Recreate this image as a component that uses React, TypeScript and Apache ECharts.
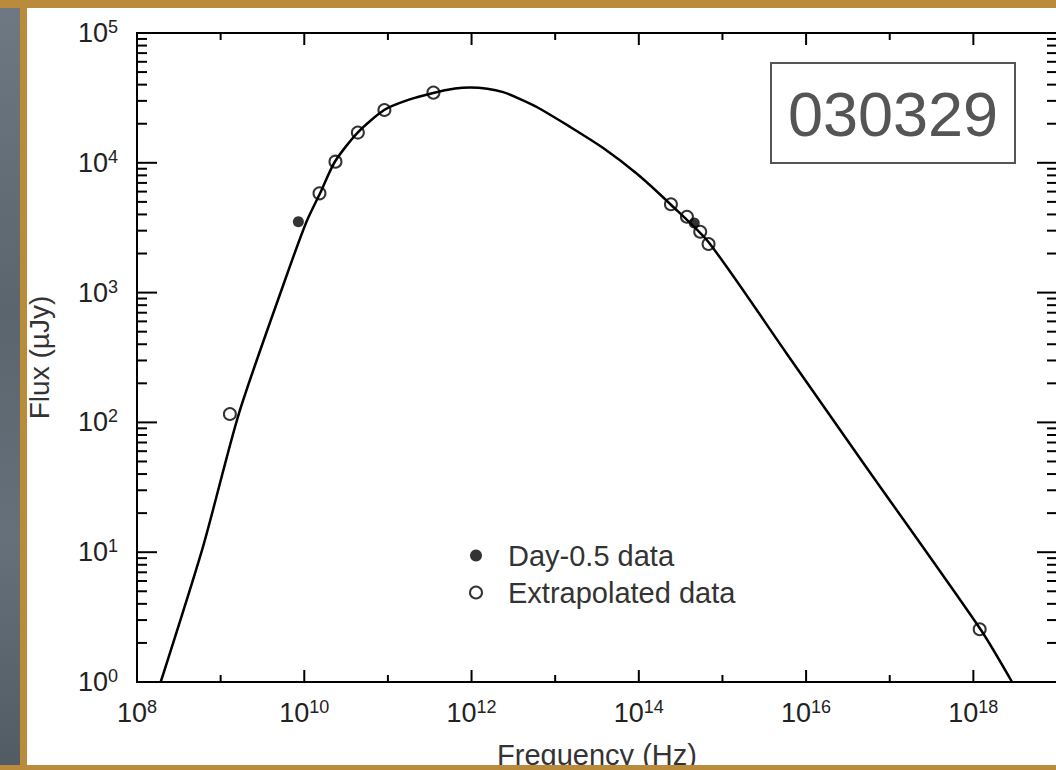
import React, { useEffect, useRef } from "react";
import * as echarts from "echarts";

// Model curve
const curveFreq = [1.92e8, 6.15e8, 1.66e9, 5.89e9, 1.06e10, 1.55e10, 2.33e10, 4.35e10, 9.02e10, 1.75e11, 3.48e11, 6.37e11, 9.62e11, 1.54e12, 2.39e12, 3.81e12, 6.1e12, 1.51e13, 3.75e13, 9.57e13, 2.44e14, 6.95e14, 5.79e15, 4.83e16, 1.21e18, 2.9e18];
const curveFlux = [1.0, 11.0, 118, 1250, 3500, 5850, 10230, 17100, 25500, 30500, 34500, 37300, 38000, 37200, 35000, 31000, 26800, 18900, 13000, 8200, 4730, 2410, 343, 48.7, 2.56, 1.0];

// Day-0.5 data (filled)
const dayFreq = [8.5e9, 4.6e14];
const dayFlux = [3520, 3440];

// Extrapolated data (open)
const extraFreq = [1.29e9, 1.52e10, 2.36e10, 4.37e10, 9.08e10, 3.5e11, 2.42e14, 3.76e14, 5.42e14, 6.82e14, 1.19e18];
const extraFlux = [116, 5820, 10200, 17100, 25500, 34700, 4790, 3840, 2945, 2370, 2.55];

// Axis ticks
const xMin = 1e8;
const xMax = 1e19;
const yMin = 1;
const yMax = 1e5;
const xMajorTicks = [1e8, 1e10, 1e12, 1e14, 1e16, 1e18];
const xMinorTicks = [1e9, 1e11, 1e13, 1e15, 1e17];
const yMajorTicks = [1, 10, 100, 1000, 10000, 100000];
const yMinorMantissas = [2, 3, 4, 5, 6, 7, 8, 9];
const yDecades = [1, 10, 100, 1000, 10000];
const yMinorTicks = yDecades.flatMap((d) => yMinorMantissas.map((m) => m * d));

const FONT = '"Liberation Sans", Arial, Helvetica, sans-serif';

function supLabel(v: number) {
  const e = Math.round(Math.log10(v));
  return `{b|10}{s|${e}}`;
}

const labelRich = {
  b: { fontSize: 27, fontFamily: FONT, color: "#222", lineHeight: 30 },
  s: { fontSize: 18, fontFamily: FONT, color: "#222", lineHeight: 20, verticalAlign: "top" },
};

function tickSeries(name: string, values: number[], orient: "x" | "y", len: number) {
  return {
    type: "custom",
    name,
    silent: true,
    clip: false,
    z: 6,
    data: values.map((v) => (orient === "x" ? [v, yMin] : [xMin, v])),
    renderItem: (_p: any, api: any) => {
      const style = { stroke: "#000", lineWidth: 2 };
      if (orient === "x") {
        const v = api.value(0);
        const b = api.coord([v, yMin]);
        const t = api.coord([v, yMax]);
        return {
          type: "group",
          children: [
            { type: "line", shape: { x1: b[0], y1: b[1], x2: b[0], y2: b[1] - len }, style },
            { type: "line", shape: { x1: t[0], y1: t[1], x2: t[0], y2: t[1] + len }, style },
          ],
        };
      }
      const v = api.value(1);
      const l = api.coord([xMin, v]);
      const r = api.coord([xMax, v]);
      return {
        type: "group",
        children: [
          { type: "line", shape: { x1: l[0], y1: l[1], x2: l[0] + len, y2: l[1] }, style },
          { type: "line", shape: { x1: r[0], y1: r[1], x2: r[0] - len, y2: r[1] }, style },
        ],
      };
    },
  };
}

export default function App() {
  const ref = useRef<HTMLDivElement>(null);
  useEffect(() => {
    if (!ref.current) return;
    const chart = echarts.init(ref.current, undefined, { renderer: "svg" });
    chart.setOption({
      animation: false,
      backgroundColor: "transparent",
      grid: {
        left: 137,
        top: 33,
        width: 920,
        height: 649,
        containLabel: false,
        outerBoundsMode: "none",
        show: true,
        borderColor: "#000",
        borderWidth: 2,
        backgroundColor: "transparent",
      },
      legend: {
        data: ["Day-0.5 data", "Extrapolated data"],
        orient: "vertical",
        left: 464,
        top: 536,
        itemWidth: 12,
        itemHeight: 12,
        itemGap: 8,
        selectedMode: false,
        textStyle: { fontSize: 29, lineHeight: 28, color: "#333", fontFamily: FONT, padding: [0, 0, 0, 21] },
      },
      xAxis: {
        type: "log",
        logBase: 10,
        min: xMin,
        max: xMax,
        interval: 2,
        name: "Frequency (Hz)",
        nameLocation: "middle",
        nameGap: 58,
        nameTextStyle: { fontSize: 29, color: "#333", fontFamily: FONT },
        axisLine: { show: false },
        axisTick: { show: false },
        splitLine: { show: false },
        axisLabel: {
          formatter: supLabel,
          rich: labelRich,
          margin: 16,
          showMaxLabel: false,
        },
      },
      yAxis: {
        type: "log",
        logBase: 10,
        min: yMin,
        max: yMax,
        interval: 1,
        name: "Flux (µJy)",
        nameLocation: "middle",
        nameGap: 84,
        nameTextStyle: { fontSize: 28, color: "#333", fontFamily: FONT },
        axisLine: { show: false },
        axisTick: { show: false },
        splitLine: { show: false },
        axisLabel: {
          formatter: supLabel,
          rich: labelRich,
          margin: 19,
        },
      },
      graphic: [
        {
          type: "rect",
          shape: { x: 771, y: 63, width: 244, height: 100 },
          style: { fill: "#fff", stroke: "#555", lineWidth: 2 },
          z: 10,
        },
        {
          type: "text",
          x: 893,
          y: 114,
          style: {
            text: "030329",
            fill: "#555",
            fontSize: 63,
            fontFamily: FONT,
            textAlign: "center",
            textVerticalAlign: "middle",
          },
          z: 11,
        },
      ],
      series: [
        {
          type: "line",
          name: "Model",
          data: curveFreq.map((f, i) => [f, curveFlux[i]]),
          showSymbol: false,
          symbol: "none",
          smooth: 0.25,
          lineStyle: { color: "#000", width: 2.5 },
          z: 3,
          silent: true,
        },
        {
          type: "scatter",
          name: "Day-0.5 data",
          data: dayFreq.map((f, i) => [f, dayFlux[i]]),
          symbol: "circle",
          symbolSize: 11,
          itemStyle: { color: "#000" },
          z: 4,
        },
        {
          type: "scatter",
          name: "Extrapolated data",
          data: extraFreq.map((f, i) => [f, extraFlux[i]]),
          symbol: "circle",
          symbolSize: 12,
          itemStyle: { color: "rgba(255,255,255,0)", borderColor: "#000", borderWidth: 2 },
          z: 4,
        },
        tickSeries("xMajor", xMajorTicks, "x", 12),
        tickSeries("xMinor", xMinorTicks, "x", 7),
        tickSeries("yMajor", yMajorTicks, "y", 20),
        tickSeries("yMinor", yMinorTicks, "y", 10),
      ],
    });
    return () => chart.dispose();
  }, []);

  return (
    <div style={{ position: "fixed", left: 0, top: 0, width: 1056, height: 770, background: "#bb8b3c", overflow: "hidden" }}>
      <div style={{ position: "absolute", left: 0, top: 8, width: 20, height: 757, background: "linear-gradient(180deg, #6e7882 0%, #5b656e 40%, #66707a 70%, #525c65 100%)" }} />
      <div style={{ position: "absolute", left: 27, top: 8, width: 1029, height: 757, background: "#ffffff" }} />
      <div ref={ref} style={{ position: "absolute", left: 0, top: 0, width: 1056, height: 770 }} />
      <div style={{ position: "absolute", left: 3, top: 765, width: 1053, height: 5, background: "#bb8b3c", pointerEvents: "none" }} />
    </div>
  );
}
